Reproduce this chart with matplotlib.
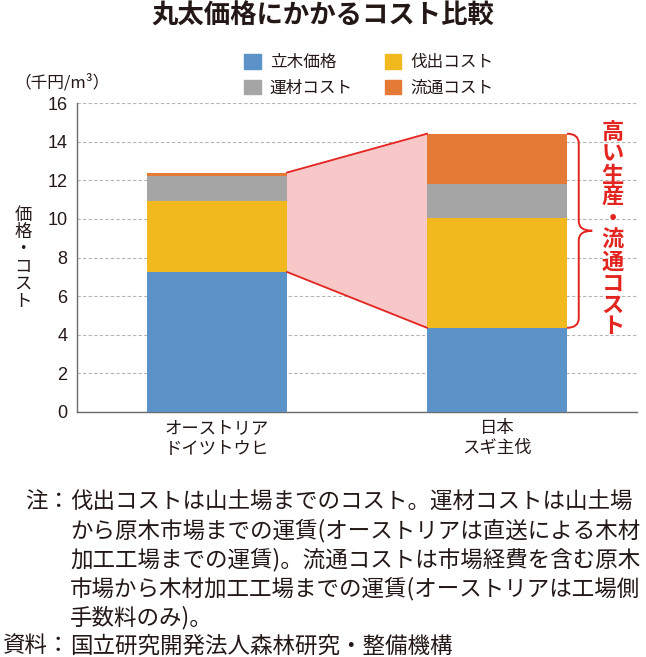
import numpy as np
import matplotlib
matplotlib.use("Agg")
import matplotlib.pyplot as plt
from matplotlib.path import Path
from matplotlib.patches import PathPatch, Patch

plt.rcParams['font.family'] = ['Noto Sans CJK JP', 'DejaVu Sans']

# data (thousand yen / m3)
categories = ['オーストリア\nドイツトウヒ', '日本\nスギ主伐']
series_names = ['立木価格', '伐出コスト', '運材コスト', '流通コスト']
standing = [7.25, 4.36]
logging = [3.68, 5.66]
haulage = [1.27, 1.80]
distribution = [0.20, 2.59]
colors = ['#5b93c8', '#f2b91e', '#a5a5a5', '#e57a37']
yticks = [0, 2, 4, 6, 8, 10, 12, 14, 16]

title = '丸太価格にかかるコスト比較'
unit_label = '（千円/m³）'
ylabel = '価格・コスト'
callout = '高い生産・流通コスト'
notes_lines = [
    '伐出コストは山土場までのコスト。運材コストは山土場',
    'から原木市場までの運賃(オーストリアは直送による木材',
    '加工工場までの運賃)。流通コストは市場経費を含む原木',
    '市場から木材加工工場までの運賃(オーストリアは工場側',
    '手数料のみ)。',
]
source_text = '国立研究開発法人森林研究・整備機構'

red = '#e3241f'
pink = '#f8c7c8'

fig = plt.figure(figsize=(6.46, 6.57), dpi=100)
W, H = 646.0, 657.0
ax = fig.add_axes([77 / W, 1 - 412 / H, 560 / W, 309 / H])

x = np.arange(len(categories))
width = 0.5
bottom = np.zeros(len(categories))
for name, vals, c in zip(series_names, [standing, logging, haulage, distribution], colors):
    ax.bar(x, vals, width, bottom=bottom, color=c, label=name, zorder=3,
           edgecolor='none')
    bottom = bottom + np.array(vals)

totals = bottom
# pink comparison band between the bars
xl, xr = x[0] + width / 2, x[1] - width / 2
ax.fill([xl, xr, xr, xl], [totals[0], totals[1], standing[1], standing[0]],
        color=pink, zorder=2, lw=0)
ax.plot([xl, xr], [totals[0], totals[1]], color=red, lw=1.3, zorder=4)
ax.plot([xl, xr], [standing[0], standing[1]], color=red, lw=1.3, zorder=4)

# brace on the right of the japanese bar
top, bot = totals[1], standing[1]
mid = (top + bot) / 2
x0 = x[1] + width / 2
xs = x0 + 0.042
xt = x0 + 0.09
r = 0.5
verts = [(x0, top), (xs, top), (xs, top - r), (xs, mid + r), (xs, mid), (xt, mid),
         (xs, mid), (xs, mid - r), (xs, bot + r), (xs, bot), (x0, bot)]
codes = [Path.MOVETO, Path.CURVE3, Path.CURVE3, Path.LINETO, Path.CURVE3, Path.CURVE3,
         Path.CURVE3, Path.CURVE3, Path.LINETO, Path.CURVE3, Path.CURVE3]
ax.add_patch(PathPatch(Path(verts, codes), fill=False, edgecolor=red, lw=1.4,
                       zorder=5, clip_on=False))
ax.text(1.414, 9.43, '\n'.join(callout), color=red, fontsize=16, fontweight='bold',
        ha='center', va='center', linespacing=0.92, zorder=6)

ax.set_xlim(-0.5, 1.5)
ax.set_ylim(0, 16)
ax.set_yticks(yticks)
ax.set_xticks(x)
ax.set_xticklabels(categories, fontsize=12.5, linespacing=1.15, color='#231815')
ax.tick_params(axis='y', length=0, pad=7, labelsize=13, labelcolor='#231815')
ax.tick_params(axis='x', length=0, pad=5)
for lab in ax.get_yticklabels():
    lab.set_fontfamily(['Liberation Sans', 'DejaVu Sans'])
ax.yaxis.grid(True, color='#b5b5b5', linestyle=(0, (3, 2)), lw=0.8)
ax.set_axisbelow(True)
for s in ['top', 'right']:
    ax.spines[s].set_visible(False)
for s in ['left', 'bottom']:
    ax.spines[s].set_color('#6b6b6b')
    ax.spines[s].set_linewidth(1.0)

# titles, labels
fig.text(323 / W, 1 - 16 / H, title, fontsize=19, fontweight='bold',
         ha='center', va='center', color='#231815')
fig.text(62 / W, 1 - 83 / H, unit_label, fontsize=12, ha='center', va='center',
         color='#231815')
fig.text(23 / W, 1 - 258 / H, '\n'.join(ylabel), fontsize=12.5, ha='center',
         va='center', linespacing=0.95, color='#231815')

handles = [Patch(color=c) for c in colors]
order = [0, 2, 1, 3]
fig.legend([handles[i] for i in order], [series_names[i] for i in order], ncol=2,
           loc='upper left', bbox_to_anchor=(229 / W, 1 - 39 / H), frameon=False,
           fontsize=12, handlelength=1.0, handleheight=1.0, handletextpad=0.55,
           columnspacing=1.9, labelspacing=0.5, labelcolor='#231815')

# notes
fs = 16.2
y0 = 502
for i, line in enumerate(notes_lines):
    fig.text(70 / W, 1 - (y0 + i * 29) / H, line, fontsize=fs, ha='left',
             va='center', color='#231815')
fig.text(70 / W, 1 - y0 / H, '注：', fontsize=fs, ha='right', va='center',
         color='#231815')
fig.text(70 / W, 1 - 646 / H, '資料：', fontsize=fs, ha='right', va='center',
         color='#231815')
fig.text(70 / W, 1 - 646 / H, source_text, fontsize=fs, ha='left', va='center',
         color='#231815')

fig.savefig('out.png', dpi=100)
